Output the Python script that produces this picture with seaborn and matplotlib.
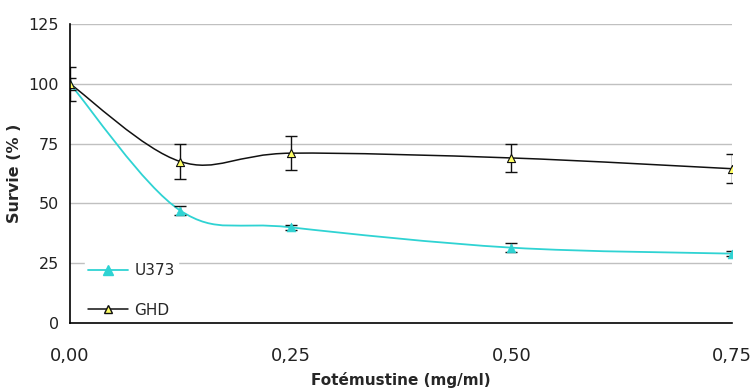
import numpy as np
import pandas as pd
import matplotlib
matplotlib.use("Agg")
import matplotlib.pyplot as plt
import seaborn as sns
from matplotlib.path import Path
from matplotlib.patches import PathPatch
from matplotlib.lines import Line2D

# Data
doses = [0.0, 0.125, 0.25, 0.5, 0.75]
u373 = [100, 47, 40, 31.5, 29]
u373_err = [2.5, 2, 1, 2, 1]
ghd = [100, 67.5, 71, 69, 64.5]
ghd_err = [7, 7.5, 7, 6, 6]
x_ticks = [0.0, 0.25, 0.5, 0.75]
x_tick_labels = ["0,00", "0,25", "0,50", "0,75"]
y_ticks = [0, 25, 50, 75, 100, 125]

CYAN = "#2fd3d3"
YELLOW = "#ffff66"


def smooth_path(xs, ys):
    # Excel-like smoothed line: cubic Bezier through points (Catmull-Rom)
    pts = list(zip(xs, ys))
    verts = [pts[0]]
    codes = [Path.MOVETO]
    n = len(pts)
    for i in range(n - 1):
        p0 = pts[max(i - 1, 0)]
        p1 = pts[i]
        p2 = pts[i + 1]
        p3 = pts[min(i + 2, n - 1)]
        c1 = (p1[0] + (p2[0] - p0[0]) / 6, p1[1] + (p2[1] - p0[1]) / 6)
        c2 = (p2[0] - (p3[0] - p1[0]) / 6, p2[1] - (p3[1] - p1[1]) / 6)
        verts += [c1, c2, p2]
        codes += [Path.CURVE4] * 3
    return Path(verts, codes)


df = pd.DataFrame({
    "dose": doses * 2,
    "survie": u373 + ghd,
    "lignee": ["U373"] * len(doses) + ["GHD"] * len(doses),
})

sns.set_theme(style="white")
plt.rcParams["font.family"] = ["DejaVu Sans"]

fig = plt.figure(figsize=(7.56, 3.89), dpi=100)
ax = fig.add_axes([70 / 756, 1 - 323 / 389, 662 / 756, 299 / 389])

for yv in y_ticks[1:]:
    ax.axhline(yv, color="#c0c0c0", lw=1.0, zorder=0)

# smoothed lines
ax.add_patch(PathPatch(smooth_path(doses, u373), fill=False, edgecolor=CYAN, lw=1.3, zorder=2))
ax.add_patch(PathPatch(smooth_path(doses, ghd), fill=False, edgecolor="#111111", lw=1.1, zorder=2))

# error bars
ax.errorbar(doses, u373, yerr=u373_err, fmt="none", ecolor="#111111", elinewidth=1.0,
            capsize=4, capthick=1.0, zorder=3)
ax.errorbar(doses, ghd, yerr=ghd_err, fmt="none", ecolor="#111111", elinewidth=1.0,
            capsize=4, capthick=1.0, zorder=3)

# markers
sns.scatterplot(data=df[df["lignee"] == "U373"], x="dose", y="survie", marker="^",
                color=CYAN, edgecolor=CYAN, s=40, ax=ax, zorder=4, legend=False)
sns.scatterplot(data=df[df["lignee"] == "GHD"], x="dose", y="survie", marker="^",
                color=YELLOW, edgecolor="#111111", linewidth=0.8, s=34, ax=ax, zorder=4,
                legend=False)

ax.set_xlim(0, 0.75)
ax.set_ylim(0, 125)
ax.set_xticks(x_ticks)
ax.set_xticklabels(x_tick_labels, fontsize=13, color="#222222")
ax.set_yticks(y_ticks)
ax.set_yticklabels([str(v) for v in y_ticks], fontsize=11.5, color="#222222")
ax.tick_params(axis="x", direction="out", length=5, width=1, color="black", pad=12)
ax.tick_params(axis="y", direction="out", length=4, width=1, color="black", pad=4)

for s in ["top", "right"]:
    ax.spines[s].set_visible(False)
for s in ["left", "bottom"]:
    ax.spines[s].set_color("black")
    ax.spines[s].set_linewidth(1.2)
    ax.spines[s].set_zorder(7)

ax.set_xlabel("Fotémustine (mg/ml)", fontsize=11, fontweight="bold")
ax.set_ylabel("Survie (% )", fontsize=11.5, fontweight="bold")
ax.xaxis.set_label_coords(0.5, -0.163)
ax.yaxis.set_label_coords(-0.073, 0.5)

handles = [
    Line2D([], [], color=CYAN, lw=1.3, marker="^", markersize=6.5,
           markerfacecolor=CYAN, markeredgecolor=CYAN),
    Line2D([], [], color="#111111", lw=1.1, marker="^", markersize=6,
           markerfacecolor=YELLOW, markeredgecolor="#111111"),
]
leg = ax.legend(handles, ["U373", "GHD"], loc="lower left", bbox_to_anchor=(0.022, 0.005),
                frameon=True, fontsize=11, labelspacing=1.6, handlelength=2.6,
                handletextpad=0.4, borderpad=0.25, borderaxespad=0.0)
leg.get_frame().set_facecolor("white")
leg.get_frame().set_edgecolor("white")
leg.get_frame().set_alpha(1)
leg.set_zorder(5)

fig.savefig("out.png", dpi=100)
